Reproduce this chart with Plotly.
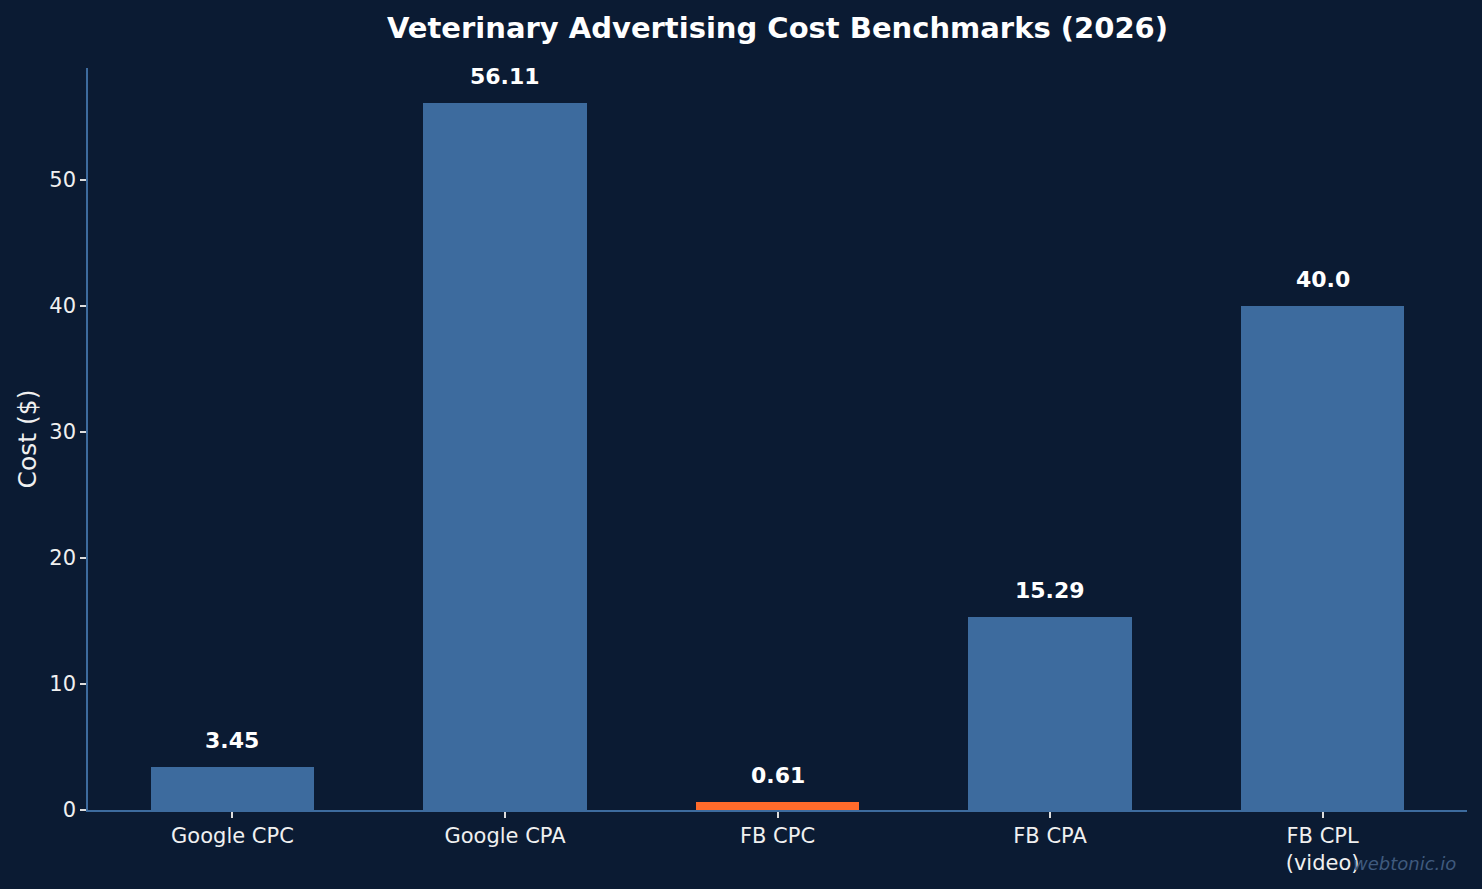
import plotly.graph_objects as go

categories = ["Google CPC", "Google CPA", "FB CPC", "FB CPA", "FB CPL<br>(video)"]
costs = [3.45, 56.11, 0.61, 15.29, 40.0]
bar_colors = ["#3d6b9e", "#3d6b9e", "#ff6b2b", "#3d6b9e", "#3d6b9e"]
y_ticks = [0, 10, 20, 30, 40, 50]

BG = "#0b1b33"
FONT = "DejaVu Sans"

fig = go.Figure()
fig.add_trace(go.Bar(
    x=list(range(len(categories))),
    y=costs,
    width=0.6,
    marker=dict(color=bar_colors, line=dict(width=0)),
    hoverinfo="skip",
))

for i, v in enumerate(costs):
    fig.add_annotation(
        x=i, y=v, xref="x", yref="y",
        text="<b>%s</b>" % v,
        showarrow=False, yanchor="bottom", yshift=12,
        font=dict(family=FONT, size=22, color="white"),
    )

fig.add_annotation(
    x=(1458 - 88) / (1467 - 88), y=(810 - 863) / (810 - 68),
    xref="paper", yref="paper", text="<i>webtonic.io</i>",
    showarrow=False, xanchor="right", yanchor="middle",
    font=dict(family=FONT, size=18, color="#3f5a7e"),
)

fig.update_layout(
    width=1482, height=889,
    paper_bgcolor=BG, plot_bgcolor=BG,
    margin=dict(l=88, r=15, t=68, b=79),
    showlegend=False,
    bargap=0,
    font=dict(family=FONT, color="#f0f0f0"),
    title=dict(
        text="<b>Veterinary Advertising Cost Benchmarks (2026)</b>",
        x=0.5, xref="paper", xanchor="center",
        y=1 - 28 / 889, yref="container", yanchor="middle",
        font=dict(family=FONT, size=29, color="white"),
    ),
    xaxis=dict(
        tickmode="array",
        tickvals=list(range(len(categories))),
        ticktext=categories,
        range=[-0.53, 4.53],
        showgrid=False, zeroline=False,
        showline=True, linecolor="#3d6b9e", linewidth=1.5,
        ticks="outside", ticklen=6, tickwidth=1.5, tickcolor="#dddddd",
        tickfont=dict(family=FONT, size=21, color="#f0f0f0"),
    ),
    yaxis=dict(
        range=[0, 58.9],
        tickmode="array", tickvals=y_ticks,
        showgrid=False, zeroline=False,
        showline=True, linecolor="#3d6b9e", linewidth=1.5,
        ticks="outside", ticklen=6, tickwidth=1.5, tickcolor="#dddddd",
        tickfont=dict(family=FONT, size=21, color="#f0f0f0"),
        title=dict(text="Cost ($)", font=dict(family=FONT, size=25, color="#f0f0f0"), standoff=6),
    ),
)

fig.write_html("out.html")
